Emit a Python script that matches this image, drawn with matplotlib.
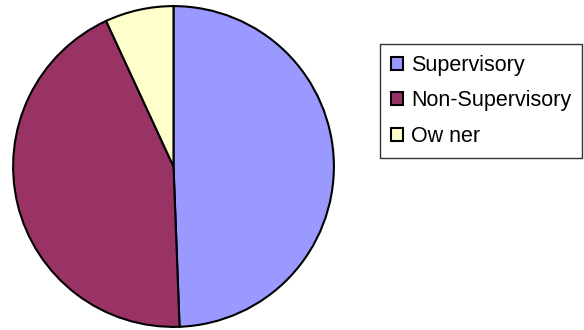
import matplotlib
matplotlib.use("Agg")
import matplotlib.pyplot as plt

categories = ["Supervisory", "Non-Supervisory", "Owner"]
values = [49.4, 43.7, 6.9]
colors = ["#9999FF", "#993366", "#FFFFCC"]
legend_labels = ["Supervisory", "Non-Supervisory", "Ow ner"]

plt.rcParams['font.family'] = ['Liberation Sans', 'DejaVu Sans']

W, H = 584, 330
fig = plt.figure(figsize=(W / 100, H / 100), dpi=100)
cx, cy, r = 173.5, 166.5, 162
ax = fig.add_axes([(cx - r) / W, (H - cy - r) / H, 2 * r / W, 2 * r / H])
wedges, _ = ax.pie(values, colors=colors, startangle=90, counterclock=False,
                   wedgeprops=dict(edgecolor="black", linewidth=1.5))
ax.set_aspect("equal")
ax.set_xlim(-1.01, 1.01)
ax.set_ylim(-1.01, 1.01)
ax.axis("off")

leg = fig.legend(wedges, legend_labels, loc="upper left",
                 bbox_to_anchor=(380 / W, 1 - 44 / H),
                 frameon=True, fancybox=False, edgecolor="black",
                 fontsize=15.5, handlelength=0.56, handleheight=0.56,
                 handletextpad=0.4, labelspacing=0.68, borderpad=0.5,
                 borderaxespad=0)
leg.get_frame().set_linewidth(1.0)
for h in leg.legend_handles:
    h.set_linewidth(1.5)

fig.savefig("out.png", dpi=100)
